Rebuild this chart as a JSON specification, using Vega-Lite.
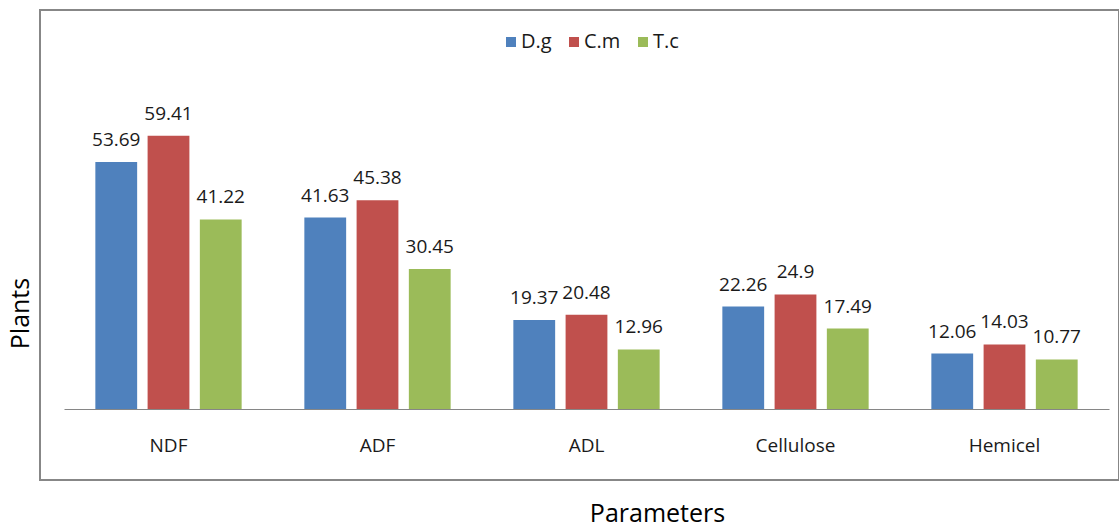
{
  "$schema": "https://vega.github.io/schema/vega-lite/v6.json",
  "width": 1079,
  "height": 470,
  "autosize": {"type": "none"},
  "padding": {"left": 40, "top": 10, "right": 0, "bottom": 43},
  "config": {
    "view": {"stroke": "#878787", "strokeWidth": 2},
    "font": "Open Sans"
  },
  "data": {
    "values": [
      {"param": "NDF", "plant": "D.g", "value": 53.69},
      {"param": "NDF", "plant": "C.m", "value": 59.41},
      {"param": "NDF", "plant": "T.c", "value": 41.22},
      {"param": "ADF", "plant": "D.g", "value": 41.63},
      {"param": "ADF", "plant": "C.m", "value": 45.38},
      {"param": "ADF", "plant": "T.c", "value": 30.45},
      {"param": "ADL", "plant": "D.g", "value": 19.37},
      {"param": "ADL", "plant": "C.m", "value": 20.48},
      {"param": "ADL", "plant": "T.c", "value": 12.96},
      {"param": "Cellulose", "plant": "D.g", "value": 22.26},
      {"param": "Cellulose", "plant": "C.m", "value": 24.9},
      {"param": "Cellulose", "plant": "T.c", "value": 17.49},
      {"param": "Hemicel", "plant": "D.g", "value": 12.06},
      {"param": "Hemicel", "plant": "C.m", "value": 14.03},
      {"param": "Hemicel", "plant": "T.c", "value": 10.77}
    ]
  },
  "encoding": {
    "x": {
      "field": "param",
      "type": "nominal",
      "sort": ["NDF", "ADF", "ADL", "Cellulose", "Hemicel"],
      "scale": {"range": [24, 1069], "paddingInner": 0.3, "paddingOuter": 0.15},
      "axis": {
        "orient": "bottom",
        "offset": -71,
        "domainColor": "#868686",
        "domainWidth": 1,
        "ticks": false,
        "tickSize": 0,
        "grid": false,
        "labelAngle": 0,
        "labelFontSize": 19,
        "labelColor": "#1a1a1a",
        "labelBaseline": "alphabetic",
        "labelPadding": 42,
        "title": "Parameters",
        "titleFontSize": 25,
        "titleFontWeight": "normal",
        "titleColor": "#000000",
        "titleX": 617,
        "titleY": 112,
        "titleAlign": "center",
        "titleBaseline": "alphabetic"
      }
    },
    "xOffset": {
      "field": "plant",
      "type": "nominal",
      "sort": ["D.g", "C.m", "T.c"],
      "scale": {"paddingInner": 0.2}
    },
    "y": {
      "field": "value",
      "type": "quantitative",
      "scale": {"domain": [0, 70], "range": [399, 77]},
      "axis": {
        "domain": false,
        "ticks": false,
        "labels": false,
        "grid": false,
        "title": "Plants",
        "titleFontSize": 25,
        "titleFontWeight": "normal",
        "titleColor": "#000000",
        "titleAngle": -90,
        "titleX": -20,
        "titleY": 303,
        "titleAlign": "center",
        "titleBaseline": "middle"
      }
    }
  },
  "layer": [
    {
      "mark": {"type": "bar"},
      "encoding": {
        "color": {
          "field": "plant",
          "type": "nominal",
          "sort": ["D.g", "C.m", "T.c"],
          "scale": {"domain": ["D.g", "C.m", "T.c"], "range": ["#4F81BD", "#C0504D", "#9BBB59"]},
          "legend": {
            "orient": "none",
            "legendX": 461,
            "legendY": 22,
            "direction": "horizontal",
            "title": null,
            "symbolType": "square",
            "symbolSize": 100,
            "symbolStrokeWidth": 0,
            "labelFontSize": 20,
            "labelColor": "#1a1a1a",
            "labelOffset": 0,
            "columnPadding": 12
          }
        }
      }
    },
    {
      "mark": {"type": "text", "baseline": "alphabetic", "dy": -16, "fontSize": 19, "color": "#1a1a1a"},
      "encoding": {
        "text": {"field": "value", "type": "nominal"}
      }
    }
  ]
}
